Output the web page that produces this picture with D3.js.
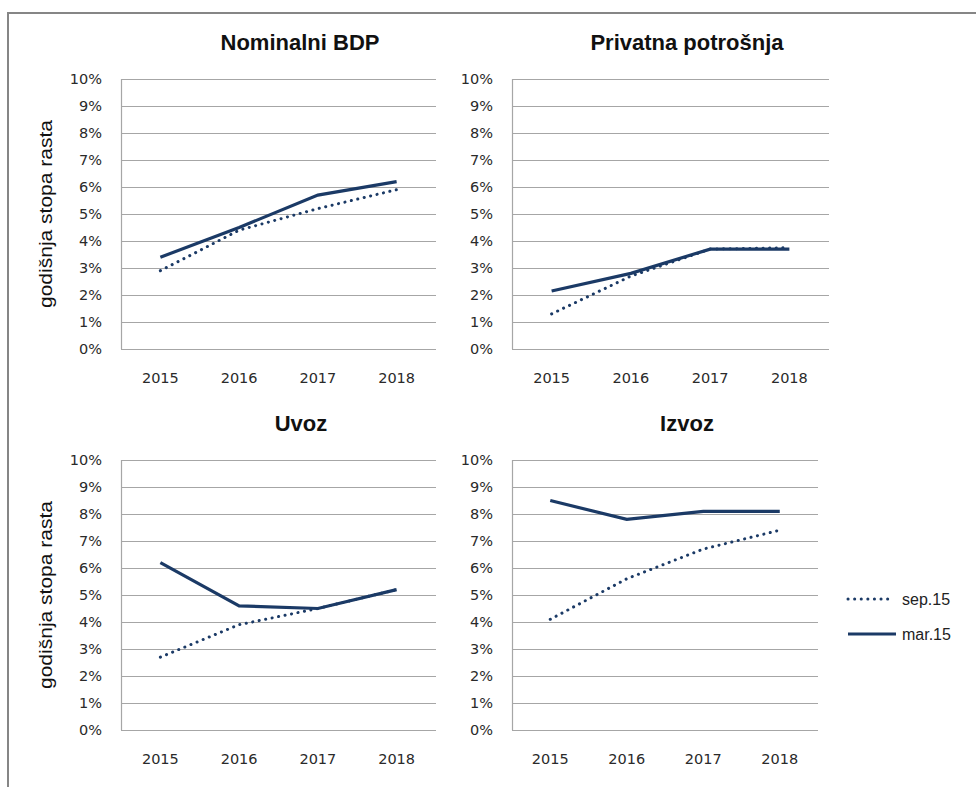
<!DOCTYPE html>
<html>
<head>
<script src="https://cdn.jsdelivr.net/npm/d3@7"></script>
<style>
  body { margin: 0; background: white; }
  text { font-family: "Liberation Sans", Arial, sans-serif; }
</style>
</head>
<body>
<script>

var width = 976,
    height = 787;

// data (annual growth, %)
var years = ["2015", "2016", "2017", "2018"];
var yTicks = [0, 1, 2, 3, 4, 5, 6, 7, 8, 9, 10];
var seriesNames = ["sep.15", "mar.15"];

var bdpSep = [2.9, 4.4, 5.2, 5.9];
var bdpMar = [3.4, 4.5, 5.7, 6.2];
var potrosnjaSep = [1.3, 2.7, 3.7, 3.75];
var potrosnjaMar = [2.15, 2.8, 3.7, 3.7];
var uvozSep = [2.7, 3.9, 4.5, 5.2];
var uvozMar = [6.2, 4.6, 4.5, 5.2];
var izvozSep = [4.1, 5.6, 6.7, 7.4];
var izvozMar = [8.5, 7.8, 8.1, 8.1];

var panels = [
  { title: "Nominalni BDP",      sep: bdpSep,       mar: bdpMar,       x0: 121, x1: 436, y0: 79,  y1: 349, ylabel: true,  tx: 300 },
  { title: "Privatna potrošnja", sep: potrosnjaSep, mar: potrosnjaMar, x0: 512, x1: 829, y0: 79,  y1: 349, ylabel: false, tx: 687 },
  { title: "Uvoz",               sep: uvozSep,      mar: uvozMar,      x0: 121, x1: 436, y0: 460, y1: 730, ylabel: true,  tx: 301 },
  { title: "Izvoz",              sep: izvozSep,     mar: izvozMar,     x0: 512, x1: 818, y0: 460, y1: 730, ylabel: false, tx: 687 }
];

var navy = "#1b3a66",
    grid = "#a6a6a6";

var svg = d3.select("body")
            .append("svg")
            .attr("width", width)
            .attr("height", height);

// outer frame (runs off the right and bottom edge)
svg.append("path")
   .attr("d", "M8," + height + " V13 H" + width)
   .attr("fill", "none")
   .attr("stroke", "#868686")
   .attr("stroke-width", 2);

panels.forEach(function (p) {
  var x = d3.scaleBand().domain(years).range([p.x0, p.x1]);
  var y = d3.scaleLinear().domain([0, 10]).range([p.y1, p.y0]);
  var g = svg.append("g");

  // gridlines
  g.selectAll(".grid")
   .data(yTicks)
   .enter()
   .append("line")
   .attr("x1", p.x0)
   .attr("x2", p.x1)
   .attr("y1", function (d) { return Math.round(y(d)) + 0.5; })
   .attr("y2", function (d) { return Math.round(y(d)) + 0.5; })
   .attr("stroke", grid)
   .attr("stroke-width", 1.2);

  g.append("line")
   .attr("x1", p.x0 + 0.5).attr("x2", p.x0 + 0.5)
   .attr("y1", p.y0).attr("y2", p.y1)
   .attr("stroke", grid)
   .attr("stroke-width", 1.2);

  // y axis labels
  var yAxis = d3.axisLeft(y)
                .tickValues(yTicks)
                .tickFormat(function (d) { return d + "%"; })
                .tickSize(0)
                .tickPadding(19);
  var ya = g.append("g").attr("transform", "translate(" + p.x0 + ",0)").call(yAxis);
  ya.select(".domain").remove();
  ya.selectAll("text")
    .style("font-family", "'DejaVu Sans', sans-serif")
    .style("font-size", "14.5px")
    .attr("fill", "#2a2a2a");

  // x axis labels
  var xAxis = d3.axisBottom(x).tickSize(0).tickPadding(24);
  var xa = g.append("g").attr("transform", "translate(0," + p.y1 + ")").call(xAxis);
  xa.select(".domain").remove();
  xa.selectAll("text")
    .style("font-family", "'DejaVu Sans', sans-serif")
    .style("font-size", "14.5px")
    .attr("fill", "#2a2a2a");

  // title
  g.append("text")
   .attr("x", p.tx)
   .attr("y", p.y0 - 29)
   .attr("text-anchor", "middle")
   .attr("font-weight", "bold")
   .attr("font-size", 22)
   .attr("fill", "#111")
   .text(p.title);

  if (p.ylabel) {
    g.append("text")
     .attr("transform", "translate(52," + (p.y0 + p.y1) / 2 + ") rotate(-90)")
     .attr("text-anchor", "middle")
     .attr("font-size", 18)
     .attr("textLength", 188)
     .attr("lengthAdjust", "spacingAndGlyphs")
     .attr("fill", "#111")
     .text("godišnja stopa rasta");
  }

  var line = d3.line()
               .x(function (d, i) { return x(years[i]) + x.bandwidth() / 2; })
               .y(function (d) { return y(d); });

  g.append("path")
   .attr("d", line(p.sep))
   .attr("fill", "none")
   .attr("stroke", navy)
   .attr("stroke-width", 3)
   .attr("stroke-linecap", "round")
   .attr("stroke-dasharray", "0.1,6.5");

  g.append("path")
   .attr("d", line(p.mar))
   .attr("fill", "none")
   .attr("stroke", navy)
   .attr("stroke-width", 3.2);
});

// legend
var legend = svg.append("g").attr("transform", "translate(847,599)");
legend.selectAll("g")
      .data(seriesNames)
      .enter()
      .append("g")
      .attr("transform", function (d, i) { return "translate(0," + i * 35 + ")"; })
      .each(function (d, i) {
        var l = d3.select(this);
        l.append("line")
         .attr("x1", 1).attr("x2", i ? 49 : 46)
         .attr("stroke", navy)
         .attr("stroke-width", i ? 3.2 : 3)
         .attr("stroke-linecap", i ? "butt" : "round")
         .attr("stroke-dasharray", i ? null : "0.1,6.5");
        l.append("text")
         .attr("x", 55)
         .attr("dy", "0.35em")
         .attr("font-size", 16)
         .attr("fill", "#222")
         .text(d);
      });

</script>
</body>
</html>
